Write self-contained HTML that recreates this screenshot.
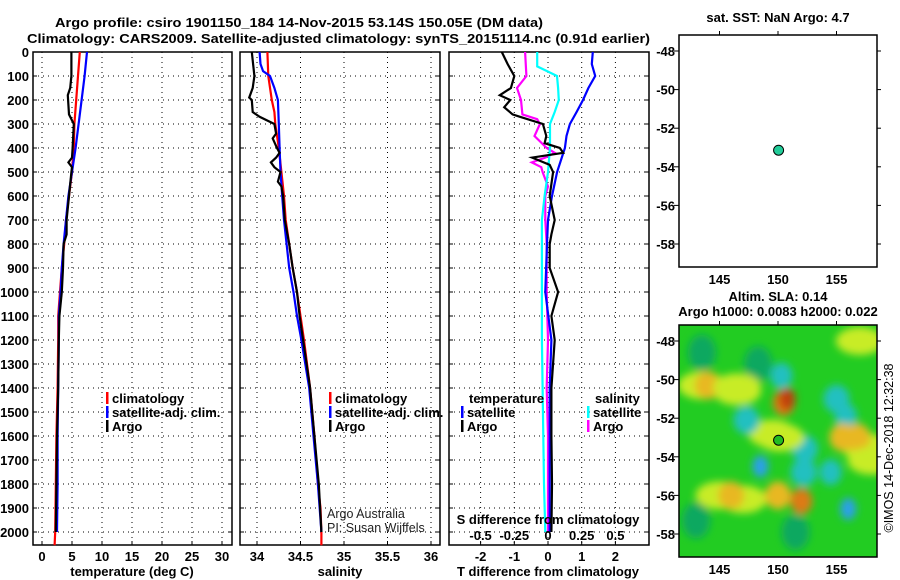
<!DOCTYPE html>
<html><head><meta charset="utf-8">
<style>
html,body{margin:0;padding:0;background:#fff;}
svg{display:block;font-family:"Liberation Sans",sans-serif;}
.b{font-weight:bold;font-size:13px;}
</style></head>
<body>
<svg id="fig" width="900" height="580" viewBox="0 0 900 580" xmlns="http://www.w3.org/2000/svg">
<defs>
<filter id="blur" x="-50%" y="-50%" width="200%" height="200%"><feGaussianBlur stdDeviation="4"/></filter>
<clipPath id="mapclip"><rect x="679" y="325" width="198" height="232"/></clipPath>
</defs>
<text class="b" x="55" y="27" font-size="14" textLength="488" lengthAdjust="spacingAndGlyphs">Argo profile: csiro 1901150_184 14-Nov-2015 53.14S 150.05E (DM data)</text>
<text class="b" x="27" y="43" font-size="14" textLength="623" lengthAdjust="spacingAndGlyphs">Climatology: CARS2009. Satellite-adjusted climatology: synTS_20151114.nc (0.91d earlier)</text>
<g id="g"></g>
</svg>
<script>
// ---- data ----
const depthTicks = [0,100,200,300,400,500,600,700,800,900,1000,1100,1200,1300,1400,1500,1600,1700,1800,1900,2000];
const tempTicks = [0,5,10,15,20,25,30];
const salTicks = [34,34.5,35,35.5,36];
const salTickLabels = ["34","34.5","35","35.5","36"];
const tdTicks = [-2,-1,0,1,2];
const sdTicks = [-0.5,-0.25,0,0.25,0.5];
const sdTickLabels = ["-0.5","-0.25","0","0.25","0.5"];

const tClimDepth = [0,100,200,300,400,500,600,700,800,900,1000,1100,1200,1400,1600,1800,2000,2055];
const tClimVal   = [6.3,6.0,5.7,5.4,5.3,5.0,4.5,4.0,3.7,3.3,3.0,2.7,2.7,2.6,2.4,2.3,2.2,2.1];
const tSatDepth  = [0,100,200,300,400,500,600,700,800,900,1000,1100,1200,1400,1600,1800,2000];
const tSatVal    = [7.5,7.1,6.6,6.1,5.6,5.0,4.4,4.0,3.6,3.3,3.1,2.8,2.8,2.7,2.6,2.6,2.5];
const tArgoDepth = [0,100,150,180,220,260,300,350,400,440,460,480,500,600,700,760,800,900,1000,1100,1200,1400,1600,1800,2000];
const tArgoVal   = [4.9,4.9,4.7,4.3,4.4,4.5,5.3,5.2,5.1,5.0,4.4,5.0,4.9,4.5,4.1,4.1,3.6,3.5,3.3,2.9,2.8,2.7,2.5,2.4,2.3];

const sClimDepth = [0,100,200,250,300,400,500,600,700,800,900,1000,1100,1200,1400,1600,1800,1900,2000,2055];
const sClimVal   = [34.12,34.13,34.17,34.20,34.21,34.25,34.28,34.31,34.33,34.37,34.41,34.46,34.50,34.54,34.61,34.66,34.70,34.73,34.74,34.74];
const sSatDepth  = [0,50,80,100,150,200,300,400,500,600,700,800,900,1000,1100,1200,1400,1600,1800,2000];
const sSatVal    = [34.03,34.04,34.07,34.15,34.20,34.24,34.25,34.26,34.27,34.29,34.31,34.34,34.37,34.42,34.46,34.51,34.60,34.65,34.70,34.74];
const sArgoDepth = [0,100,150,190,200,250,270,300,340,360,400,420,440,460,480,500,540,560,600,700,800,900,1000,1100,1200,1400,1600,1800,2000];
const sArgoVal   = [33.94,33.97,33.95,33.91,33.94,33.95,34.03,34.20,34.22,34.18,34.23,34.26,34.22,34.16,34.20,34.27,34.24,34.28,34.30,34.32,34.37,34.41,34.46,34.49,34.53,34.61,34.66,34.71,34.74];

const dTArgoDepth = [0,50,100,150,180,200,230,260,270,300,350,380,400,420,440,470,500,600,700,760,800,900,1000,1100,1200,1400,1600,1800,2000];
const dTArgoVal   = [-1.37,-1.2,-1.0,-1.1,-1.43,-1.12,-1.3,-1.05,-0.83,-0.15,-0.05,-0.1,0.35,0.45,-0.47,0.05,0.15,0.05,0.2,0.1,0.05,0.05,0.3,0.1,0.2,0.1,0.1,0.12,0.1];
const dTSatDepth  = [0,50,100,150,200,250,300,350,400,500,600,700,800,1000,1200,1400,1600,1800,2000];
const dTSatVal    = [1.33,1.3,1.4,1.2,1.04,0.85,0.65,0.55,0.5,0.27,0.12,0.0,-0.03,-0.08,0.1,0.05,0.05,0.05,0.05];
const dSSatDepth  = [0,60,80,100,150,200,250,300,400,500,600,700,800,1000,1200,1400,1600,1800,2000];
const dSSatVal    = [-0.08,-0.08,-0.005,0.067,0.075,0.08,0.05,0.015,0.015,0.0,-0.025,-0.045,-0.045,-0.045,-0.045,-0.04,-0.035,-0.03,-0.02];
const dSArgoDepth = [0,100,150,200,260,280,300,350,400,420,440,460,480,500,560,600,700,800,900,1000,1200,1400,1600,1800,2000];
const dSArgoVal   = [-0.17,-0.16,-0.23,-0.2,-0.19,-0.08,-0.06,-0.1,-0.01,0.05,-0.02,-0.12,-0.05,-0.04,0.0,-0.02,-0.02,-0.01,-0.01,-0.01,0.0,-0.01,0.0,0.0,0.0];

const latTicks = [-48,-50,-52,-54,-56,-58];
const lonTicks = [145,150,155];
const argoLon = 150.05, argoLat = -53.14;
// SLA anomaly blobs: lon, lat, value (-3..3)
const blobLon = [143.5,146.5,157,145,147,149.5,157.5,143.5,148.3,150.3,155,155.8,147.3,152.3,152.2,144,146.5,150.5,150.8,155.5,156.8,158,148.5,154.5,146,150,152,156,143,151.5,150.2];
const blobLat = [-50.3,-50.6,-48,-56,-56.2,-52.8,-53.5,-48.6,-49.2,-49.8,-51,-51.9,-52.1,-53.6,-54.8,-50.3,-50.4,-51.2,-51,-53,-53,-54.2,-54.5,-54.8,-56,-56,-56.3,-56.7,-57.3,-57.9,-53];
const blobVal = [0.8,0.8,0.8,0.8,0.8,0.8,0.8,-1,-1,-2,-1.6,-2,-1.6,-1.6,-1.6,1.4,1,2,3,1.6,1.8,1,-2.6,-2,1.4,1.8,2.3,-2.6,-1,-1.2,0.8];

// ---- helpers ----
const G = document.getElementById('g');
const NS = 'http://www.w3.org/2000/svg';
function mk(tag, attrs, parent){const e=document.createElementNS(NS,tag);for(const k in attrs)e.setAttribute(k,attrs[k]);(parent||G).appendChild(e);return e;}
function txt(x,y,s,attrs,parent){const e=mk('text',Object.assign({x:x,y:y},attrs||{}),parent);e.textContent=s;return e;}
const y = d => 52 + d*0.24;
const tX = v => 42 + v*6;
const sX = v => 257 + (v-34)*87;
const dtX = v => 548 + v*33.7;
const dsX = v => 548 + v*134.8;
const lonX = v => 778 + (v-150)*11.7;
const latYTop = v => 51 + (-48 - v)*19.3;
const latYBot = v => 341 + (-48 - v)*19.3;

const panels = [
 {name:'temperature-panel', x0:33, x1:232, xs:tX, ticks:tempTicks, labels:tempTicks.map(String), xlabel:'temperature (deg C)', xlx:132},
 {name:'salinity-panel', x0:240, x1:440, xs:sX, ticks:salTicks, labels:salTickLabels, xlabel:'salinity', xlx:340},
 {name:'difference-panel', x0:449, x1:649, xs:dtX, ticks:tdTicks, labels:tdTicks.map(String), xlabel:'T difference from climatology', xlx:548}
];
const yTop=52, yBot=545;
panels.forEach((p,pi)=>{
  const g = mk('g',{});
  
  
  depthTicks.forEach(d=>{
    const l=mk('line',{x1:p.x0,x2:p.x1,y1:y(d),y2:y(d),stroke:'#000','stroke-width':1,'stroke-dasharray':'1,4'},g);
    
    
    mk('line',{x1:p.x0,x2:p.x0+4,y1:y(d),y2:y(d),stroke:'#000'},g);
    mk('line',{x1:p.x1-4,x2:p.x1,y1:y(d),y2:y(d),stroke:'#000'},g);
    if(pi===0){
      const t=txt(29,y(d)+5,String(d),{'text-anchor':'end',class:'b','font-size':12},g);
      
      
    }
  });
  p.ticks.forEach((v,i)=>{
    const xx=p.xs(v);
    const l=mk('line',{x1:xx,x2:xx,y1:yTop,y2:yBot,stroke:'#000','stroke-width':1,'stroke-dasharray':'1,4'},g);
    
    
    mk('line',{x1:xx,x2:xx,y1:yBot-4,y2:yBot,stroke:'#000'},g);
    const t=txt(xx,561,p.labels[i],{'text-anchor':'middle',class:'b','font-size':12},g);
    
    
  });
  const r=mk('rect',{x:p.x0,y:yTop,width:p.x1-p.x0,height:yBot-yTop,fill:'none',stroke:'#000','stroke-width':1.5},g);
  
  
  const xl=txt(p.xlx,576,p.xlabel,{'text-anchor':'middle',class:'b','font-size':12.5},g);
  
  
});

function line(ds,vs,xs,color,name){
  const pts=ds.map((d,i)=>xs(vs[i]).toFixed(1)+','+y(d).toFixed(1)).join(' ');
  const e=mk('polyline',{points:pts,fill:'none',stroke:color,'stroke-width':2.2,'stroke-linejoin':'miter'});
  
  
}
line(tClimDepth,tClimVal,tX,'#f00','temperature-climatology-line');
line(tSatDepth,tSatVal,tX,'#00f','temperature-satellite-line');
line(tArgoDepth,tArgoVal,tX,'#000','temperature-argo-line');
line(sClimDepth,sClimVal,sX,'#f00','salinity-climatology-line');
line(sSatDepth,sSatVal,sX,'#00f','salinity-satellite-line');
line(sArgoDepth,sArgoVal,sX,'#000','salinity-argo-line');
line(dSArgoDepth,dSArgoVal,dsX,'#f0f','sdiff-argo-line');
line(dSSatDepth,dSSatVal,dsX,'#0ff','sdiff-satellite-line');
line(dTSatDepth,dTSatVal,dtX,'#00f','tdiff-satellite-line');
line(dTArgoDepth,dTArgoVal,dtX,'#000','tdiff-argo-line');

// legends
function legEntry(x,yy,color,label,name){
  const g=mk('g',{});
  
  
  mk('rect',{x:x,y:yy-11,width:2.5,height:12,fill:color},g);
  txt(x+6,yy,label,{class:'b','font-size':12.5},g);
}
legEntry(106,403,'#f00','climatology','legend-entry-climatology');
legEntry(106,417,'#00f','satellite-adj. clim.','legend-entry-satellite-adj');
legEntry(106,431,'#000','Argo','legend-entry-argo');
legEntry(329,403,'#f00','climatology','legend-entry-climatology');
legEntry(329,417,'#00f','satellite-adj. clim.','legend-entry-satellite-adj');
legEntry(329,431,'#000','Argo','legend-entry-argo');
const lt=txt(469,403,'temperature',{class:'b','font-size':12.5});


const ls=txt(595,403,'salinity',{class:'b','font-size':12.5});


legEntry(461,417,'#00f','satellite','legend-entry-t-satellite');
legEntry(461,431,'#000','Argo','legend-entry-t-argo');
legEntry(587,417,'#0ff','satellite','legend-entry-s-satellite');
legEntry(587,431,'#f0f','Argo','legend-entry-s-argo');
const sdt=txt(548,524,'S difference from climatology',{'text-anchor':'middle',class:'b','font-size':12.5});


sdTicks.forEach((v,i)=>{
  const t=txt(dsX(v),540,sdTickLabels[i],{'text-anchor':'middle',class:'b','font-size':12});
  
  
});
const c1=txt(327,518,'Argo Australia',{'font-size':12.5,fill:'#222'});


const c2=txt(327,532,'PI: Susan Wijffels',{'font-size':12.5,fill:'#222'});



// maps
function mapAxes(top,bot,latY,name,title1,title2){
  const g=mk('g',{});
  
  
  latTicks.forEach(v=>{
    const yy=latY(v);
    mk('line',{x1:674,x2:679,y1:yy,y2:yy,stroke:'#000'},g);
    mk('line',{x1:877,x2:881,y1:yy,y2:yy,stroke:'#000'},g);
    const t=txt(675,yy+5,String(v),{'text-anchor':'end',class:'b','font-size':12},g);
    
    
  });
  lonTicks.forEach(v=>{
    const xx=lonX(v);
    mk('line',{x1:xx,x2:xx,y1:top-4,y2:top,stroke:'#000'},g);
    const t=txt(xx,bot+17,String(v),{'text-anchor':'middle',class:'b','font-size':12},g);
    
    
  });
  const r=mk('rect',{x:679,y:top,width:198,height:bot-top,fill:'none',stroke:'#000','stroke-width':1.5},g);
  
  
  const t1=txt(778,title2?top-24:top-13,title1,{'text-anchor':'middle',class:'b','font-size':12},g);
  
  
  if(title2){
    const t2=txt(778,top-9,title2,{'text-anchor':'middle',class:'b','font-size':12},g);
    
    
  }
}
// heatmap
const hm=mk('g',{'clip-path':'url(#mapclip)'});


mk('rect',{x:679,y:325,width:198,height:232,fill:'#22cc22'},hm);
const bg=mk('g',{filter:'url(#blur)'},hm);
function col(v){
  if(v>=2.6) return '#c0400e';
  if(v>=2) return '#dd7a14';
  if(v>=1.4) return '#e8b820';
  if(v>=0.6) return '#c8ec28';
  if(v>-1.4) return '#10a860';
  if(v>-2.2) return '#20c0c0';
  return '#2aa0e8';
}
blobLon.forEach((lo,i)=>{
  const v=blobVal[i];
  const a=Math.abs(v);
  const rx = a>=2.6?8:(a>=2?11:(a>=1.4?13:(v>0?24:14)));
  const ry = a>=2.6?11:(a>=2?13:(a>=1.4?14:(v>0?14:18)));
  const e=mk('ellipse',{cx:lonX(lo),cy:latYBot(blobLat[i]),rx:rx,ry:ry,fill:col(v)},bg);
  
  
});
mapAxes(35,267,latYTop,'sst-map','sat. SST: NaN Argo: 4.7',null);
mapAxes(325,557,latYBot,'sla-map','Altim. SLA: 0.14','Argo h1000: 0.0083 h2000: 0.022');
const m1=mk('circle',{cx:lonX(argoLon),cy:latYTop(argoLat),r:5,fill:'#22cc99',stroke:'#000','stroke-width':1});


const m2=mk('circle',{cx:lonX(argoLon),cy:latYBot(argoLat),r:5,fill:'#22bb22',stroke:'#000','stroke-width':1});


const cr=txt(0,0,'©IMOS 14-Dec-2018 12:32:38',{'font-size':12.5,'text-anchor':'middle',transform:'translate(893,448) rotate(-90)'});


</script>
</body></html>
